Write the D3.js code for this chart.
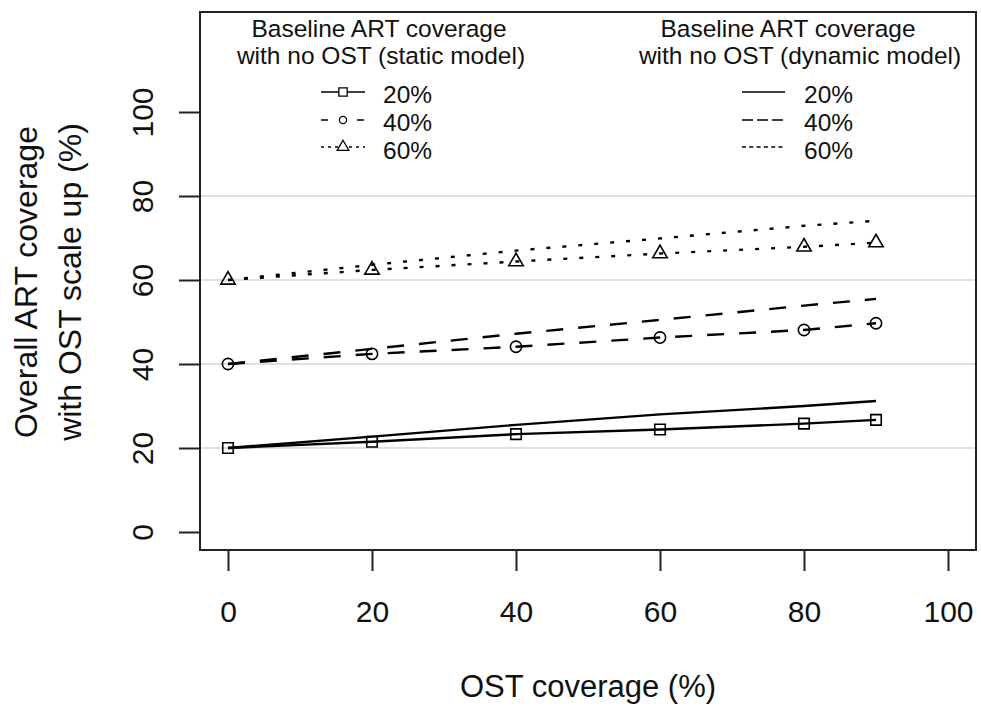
<!DOCTYPE html>
<html>
<head>
<meta charset="utf-8">
<script src="https://cdn.jsdelivr.net/npm/d3@7"></script>
<style>
  html, body { margin: 0; padding: 0; background: #fff; }
  svg text { font-family: "Liberation Sans", Arial, sans-serif; fill: #111; }
</style>
</head>
<body>
<svg id="chart" width="981" height="709"></svg>
<script>
// ---- data ----
const ostCoverage = [0, 20, 40, 60, 80, 90];
const baselineLabels = ["20%", "40%", "60%"];
const staticModel20 = [20, 21.5, 23.3, 24.4, 25.8, 26.7];
const staticModel40 = [40, 42.4, 44.1, 46.3, 48.1, 49.7];
const staticModel60 = [60, 62.4, 64.4, 66.3, 67.9, 68.9];
const dynamicModel20 = [20, 22.7, 25.5, 28.0, 30.0, 31.2];
const dynamicModel40 = [40, 43.6, 47.2, 50.5, 53.9, 55.5];
const dynamicModel60 = [60, 63.6, 67.0, 69.9, 72.9, 74.1];
const xTickValues = [0, 20, 40, 60, 80, 100];
const yTickValues = [0, 20, 40, 60, 80, 100];
const gridValues = [20, 40, 60, 80];
const xTitle = "OST coverage (%)";
const yTitleLines = ["Overall ART coverage", "with OST scale up (%)"];
const staticTitle = ["Baseline ART coverage", "with no OST (static model)"];
const dynamicTitle = ["Baseline ART coverage", "with no OST (dynamic model)"];

// ---- layout ----
const svg = d3.select("#chart");
const box = {left: 200, right: 976, top: 12, bottom: 550};
const x = d3.scaleLinear().domain([0, 100]).range([228, 948]);
const y = d3.scaleLinear().domain([0, 100]).range([532, 112]);

// gridlines
svg.append("g").selectAll("line").data(gridValues).join("line")
  .attr("x1", box.left).attr("x2", box.right)
  .attr("y1", d => y(d)).attr("y2", d => y(d))
  .attr("stroke", "#d4d4d4").attr("stroke-width", 1.6);

// axes
const xAxis = svg.append("g").attr("transform", `translate(0,${box.bottom})`)
  .call(d3.axisBottom(x).tickValues(xTickValues).tickSize(21).tickFormat(d3.format("d")));
xAxis.select(".domain").remove();
xAxis.selectAll("line").attr("stroke", "#222").attr("stroke-width", 2);
xAxis.selectAll("text").attr("y", 72).attr("dy", 0)
  .style("font-size", "30px").attr("fill", "#111");

const yAxis = svg.append("g").attr("transform", `translate(${box.left},0)`)
  .call(d3.axisLeft(y).tickValues(yTickValues).tickSize(21).tickFormat(d3.format("d")));
yAxis.select(".domain").remove();
yAxis.selectAll("line").attr("stroke", "#222").attr("stroke-width", 2);
yAxis.selectAll("text").attr("x", 0).attr("dy", 0).attr("text-anchor", "middle")
  .attr("transform", "translate(-47,0) rotate(-90)")
  .style("font-size", "30px").attr("fill", "#111");

// box
svg.append("rect")
  .attr("x", box.left).attr("y", box.top)
  .attr("width", box.right - box.left).attr("height", box.bottom - box.top)
  .attr("fill", "none").attr("stroke", "#222").attr("stroke-width", 2);

// titles
svg.append("text").attr("x", (box.left + box.right) / 2).attr("y", 697)
  .attr("text-anchor", "middle").style("font-size", "31px").text(xTitle);
[[37, yTitleLines[0]], [81, yTitleLines[1]]].forEach(([bx, t]) => {
  svg.append("text").attr("transform", `translate(${bx},${(box.top + box.bottom) / 2 + 1}) rotate(-90)`)
    .attr("text-anchor", "middle").style("font-size", "32px").text(t);
});

// series
const dashes = ["none", "17,15", "4,12"];
const staticSeries = [staticModel20, staticModel40, staticModel60];
const dynamicSeries = [dynamicModel20, dynamicModel40, dynamicModel60];
const line = d3.line().x(d => x(d[0])).y(d => y(d[1]));

dynamicSeries.forEach((vals, i) => {
  svg.append("path").datum(ostCoverage.map((o, j) => [o, vals[j]]))
    .attr("d", line).attr("fill", "none").attr("stroke", "#000")
    .attr("stroke-width", 2.4).attr("stroke-dasharray", dashes[i]);
});
staticSeries.forEach((vals, i) => {
  svg.append("path").datum(ostCoverage.map((o, j) => [o, vals[j]]))
    .attr("d", line).attr("fill", "none").attr("stroke", "#000")
    .attr("stroke-width", 2.4).attr("stroke-dasharray", dashes[i]);
});

const symbols = [d3.symbolSquare, d3.symbolCircle, d3.symbolTriangle];
const symSizes = [110, 100, 90];
staticSeries.forEach((vals, i) => {
  svg.append("g").selectAll("path").data(ostCoverage.map((o, j) => [o, vals[j]])).join("path")
    .attr("transform", d => `translate(${x(d[0])},${y(d[1])})`)
    .attr("d", d3.symbol().type(symbols[i]).size(symSizes[i]))
    .attr("fill", "none").attr("stroke", "#000").attr("stroke-width", 1.6);
});

// legends
function legend(cx1, cx2, titleLines, lx0, lx1, tx, withMarkers, legendDashes) {
  svg.append("text").attr("x", cx1).attr("y", 37).attr("text-anchor", "middle")
    .style("font-size", "24.5px").text(titleLines[0]);
  svg.append("text").attr("x", cx2).attr("y", 64).attr("text-anchor", "middle")
    .style("font-size", "24.5px").text(titleLines[1]);
  const rowsLine = [92, 120, 147];
  const rowsText = [103, 131, 159];
  baselineLabels.forEach((lab, i) => {
    svg.append("line").attr("x1", lx0).attr("x2", lx1)
      .attr("y1", rowsLine[i]).attr("y2", rowsLine[i])
      .attr("stroke", "#000").attr("stroke-width", 1.3)
      .attr("stroke-dasharray", legendDashes[i]);
    if (withMarkers) {
      svg.append("path").attr("transform", `translate(${(lx0 + lx1) / 2},${rowsLine[i]})`)
        .attr("d", d3.symbol().type(symbols[i]).size([70, 40, 60][i]))
        .attr("fill", "#fff").attr("stroke", "#000").attr("stroke-width", 1.3);
    }
    svg.append("text").attr("x", tx).attr("y", rowsText[i])
      .style("font-size", "24.5px").text(lab);
  });
}
legend(379, 381, staticTitle, 321, 365, 383, true, ["none", "7,29", "3,4"]);
legend(788, 800, dynamicTitle, 742, 785, 804, false, ["none", "11,4", "4,3.3"]);
</script>
</body>
</html>
